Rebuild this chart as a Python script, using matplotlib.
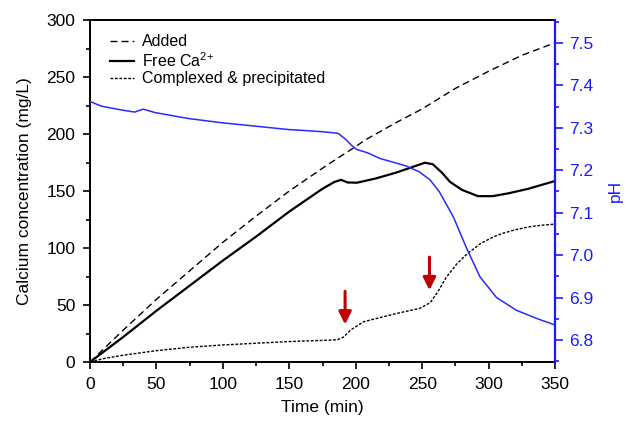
import numpy as np
import matplotlib.pyplot as plt
from matplotlib.ticker import MultipleLocator

plt.rcParams["font.family"] = ["Liberation Sans", "DejaVu Sans"]
plt.rcParams["font.size"] = 12.5
plt.rcParams["mathtext.fontset"] = "custom"
plt.rcParams["mathtext.rm"] = "Liberation Sans"

# Calcium added (mg/L)
t_added = [0, 25, 50, 75, 100, 125, 150, 175, 184, 200, 207, 232, 250, 275, 300, 325, 350]
added = [0, 28, 55, 80, 105, 128, 150, 170, 177, 189, 194.7, 211, 222, 240, 255, 269, 280]

# Free Ca2+ (mg/L)
t_free = [0, 25, 50, 75, 100, 125, 150, 175, 184, 189, 194, 201, 215, 230, 245, 252,
          258, 265, 271, 280, 292, 303, 315, 330, 350]
free = [0, 22, 45, 67, 89, 110, 132, 152, 158, 159.8, 157.5, 157.3, 161, 166, 172, 174.8,
        173.5, 166, 158, 151, 145.5, 145.5, 148, 152, 158.8]

# Complexed & precipitated (mg/L)
t_cplx = [0, 10, 25, 50, 75, 100, 125, 150, 175, 186, 191, 196, 206, 220, 231, 248, 256,
          262, 268, 276, 284, 294, 304, 311, 320, 331, 340, 350]
cplx = [0, 3, 6, 10, 13, 15, 16.5, 18, 19, 19.5, 22, 28, 35.4, 39.5, 42.7, 47, 52,
        62, 74, 86, 95, 104, 110, 113, 116, 118.7, 120, 121]

# pH
t_ph = [0, 8.5, 23.6, 33.6, 40, 48.7, 73.8, 98.8, 124, 149, 174, 186.7, 192, 196.7, 200.7,
        209, 218, 238, 248, 256, 263, 273.5, 283.5, 293.5, 306, 321, 336, 348.5, 350]
ph = [7.362, 7.351, 7.342, 7.337, 7.344, 7.336, 7.322, 7.312, 7.304, 7.296, 7.291, 7.287,
      7.274, 7.259, 7.249, 7.241, 7.228, 7.21, 7.196, 7.177, 7.149, 7.09, 7.016, 6.949,
      6.90, 6.870, 6.851, 6.837, 6.835]

# Red arrows (x, y_start, y_end) in mg/L
arrow_x = [192, 255.5]
arrow_y0 = [62, 92]
arrow_y1 = [33, 63]

fig = plt.figure(figsize=(6.25, 4.21), dpi=100)
ax = fig.add_axes([0.144, 0.140, 0.744, 0.8125])

ax.plot(t_added, added, color="k", lw=1.0, ls=(0, (5, 3)), label="Added")
ax.plot(t_free, free, color="k", lw=1.6, label=r"Free Ca$^{\mathregular{2{+}}}$")
ax.plot(t_cplx, cplx, color="k", lw=1.0, ls=(0, (2, 1.2)), label="Complexed & precipitated")

for x, y0, y1 in zip(arrow_x, arrow_y0, arrow_y1):
    ax.annotate("", xy=(x, y1), xytext=(x, y0),
                arrowprops=dict(arrowstyle="-|>,head_width=0.3,head_length=0.6",
                                color="#c00000", lw=2.2, shrinkA=0, shrinkB=0))

ax.set_xlim(0, 350)
ax.set_ylim(0, 300)
ax.xaxis.set_major_locator(MultipleLocator(50))
ax.xaxis.set_minor_locator(MultipleLocator(25))
ax.yaxis.set_major_locator(MultipleLocator(50))
ax.yaxis.set_minor_locator(MultipleLocator(25))
ax.tick_params(which="major", direction="out", length=5, width=1.2, pad=5.5)
ax.tick_params(which="minor", direction="out", length=3, width=1.2)
ax.set_xlabel("Time (min)", labelpad=6)
ax.set_ylabel("Calcium concentration (mg/L)", labelpad=10)
for s in ["left", "bottom", "top"]:
    ax.spines[s].set_linewidth(1.4)
ax.spines["right"].set_visible(False)

leg = ax.legend(loc="upper left", frameon=False, handlelength=1.5, handletextpad=0.5,
                labelspacing=0.1, borderaxespad=0.5, fontsize=11.5, bbox_to_anchor=(0.012, 1.0))

ax2 = ax.twinx()
ax2.plot(t_ph, ph, color="#2a2aff", lw=1.1)
ax2.set_ylim(6.748, 7.554)
ax2.yaxis.set_major_locator(MultipleLocator(0.1))
ax2.yaxis.set_minor_locator(MultipleLocator(0.05))
ax2.yaxis.set_major_formatter(plt.FormatStrFormatter("%.1f"))
ax2.tick_params(which="major", direction="out", length=5.5, width=1.2, colors="#1a1aff", pad=5)
ax2.tick_params(which="minor", direction="out", length=3, width=1.2, colors="#1a1aff")
ax2.set_ylabel("pH", color="#1a1aff", labelpad=10)
for s in ["left", "bottom", "top"]:
    ax2.spines[s].set_visible(False)
ax2.spines["right"].set_color("#1a1aff")
ax2.spines["right"].set_linewidth(1.6)

fig.savefig("out.png", dpi=100)
